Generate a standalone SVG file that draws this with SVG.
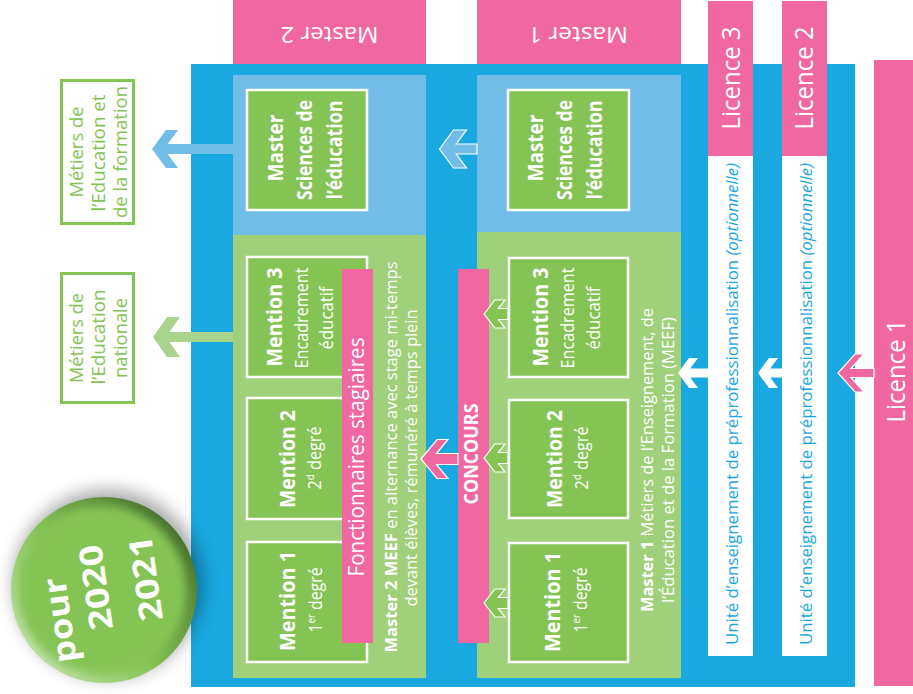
<svg xmlns="http://www.w3.org/2000/svg" width="913" height="694" viewBox="0 0 913 694">
<style>
text{font-family:"Open Sans","Noto Sans","DejaVu Sans",sans-serif;text-anchor:middle}
.w{fill:#ffffff}
.g{fill:#84c455}
.u{fill:#1aa7e0}
.b{font-weight:bold}
.blue{fill:#19a8e0}
.lb{fill:#72bce8}
.lg{fill:#9fd07a}
.pk{fill:#f067a1}
.box{fill:#84c455;stroke:#ffffff;stroke-width:2.5}
.mbox{fill:#ffffff;stroke:#84c455;stroke-width:3}
.wa{fill:#ffffff}
.ga{fill:#84c455;stroke:#ffffff;stroke-width:1.2}
.pa{fill:#f067a1;stroke:#ffffff;stroke-width:1.2}
.la{fill:#72bce8;stroke:#ffffff;stroke-width:1.2}
</style>
<defs>
<linearGradient id="rim" x1="0.1" y1="0.9" x2="0.95" y2="0.2">
<stop offset="0" stop-color="#c3e4ae"/>
<stop offset="0.45" stop-color="#84c455"/>
<stop offset="1" stop-color="#446f2c"/>
</linearGradient>
<filter id="sh" x="-30%" y="-30%" width="160%" height="160%"><feGaussianBlur stdDeviation="9"/></filter>
<filter id="soft" x="-20%" y="-20%" width="140%" height="140%"><feGaussianBlur stdDeviation="4"/></filter>
</defs>
<rect x="0" y="0" width="913" height="694" fill="#ffffff"/>

<g id="frame">
<rect class="blue" x="191" y="64" width="664" height="623"/>
<rect class="lb" x="233" y="75" width="193" height="160"/>
<rect class="lg" x="233" y="235" width="193" height="443"/>
<rect class="lb" x="477" y="75" width="204" height="157"/>
<rect class="lg" x="477" y="232" width="204" height="446"/>
</g>

<g id="master2-header">
<rect class="pk" x="233" y="0" width="193" height="64"/>
<text class="w" font-size="22" transform="translate(329.5,27) rotate(180)" textLength="98" lengthAdjust="spacingAndGlyphs">Master 2</text>
</g>
<g id="master1-header">
<rect class="pk" x="477" y="0" width="204" height="64"/>
<text class="w" font-size="22" transform="translate(578,27) rotate(180)" textLength="100" lengthAdjust="spacingAndGlyphs">Master 1</text>
</g>

<g id="licence3">
<rect class="pk" x="708" y="1" width="45" height="155"/>
<rect class="w" x="708" y="156" width="45" height="500"/>
<text class="w" font-size="25" transform="translate(740,78) rotate(-90)" textLength="103" lengthAdjust="spacingAndGlyphs">Licence 3</text>
<text class="u" font-size="16" transform="translate(738,404) rotate(-90)" textLength="482" lengthAdjust="spacingAndGlyphs">Unité d’enseignement de préprofessionnalisation <tspan font-style="italic">(optionnelle)</tspan></text>
</g>
<g id="licence2">
<rect class="pk" x="782" y="1" width="45" height="155"/>
<rect class="w" x="782" y="156" width="45" height="500"/>
<text class="w" font-size="25" transform="translate(813,78) rotate(-90)" textLength="103" lengthAdjust="spacingAndGlyphs">Licence 2</text>
<text class="u" font-size="16" transform="translate(812,404) rotate(-90)" textLength="482" lengthAdjust="spacingAndGlyphs">Unité d’enseignement de préprofessionnalisation <tspan font-style="italic">(optionnelle)</tspan></text>
</g>
<g id="licence1">
<rect class="pk" x="874" y="60" width="39" height="626"/>
<text class="w" font-size="25" transform="translate(905,371) rotate(-90)" textLength="103" lengthAdjust="spacingAndGlyphs">Licence 1</text>
</g>

<g id="metiers-formation">
<rect class="mbox" x="61.5" y="80.5" width="72" height="143"/>
<text class="g" font-size="18" transform="translate(83,152) rotate(-90)" textLength="91" lengthAdjust="spacingAndGlyphs">Métiers de</text>
<text class="g" font-size="18" transform="translate(105,153) rotate(-90)" textLength="117" lengthAdjust="spacingAndGlyphs">l’Education et</text>
<text class="g" font-size="18" transform="translate(127,152) rotate(-90)" textLength="132" lengthAdjust="spacingAndGlyphs">de la formation</text>
</g>
<g id="metiers-nationale">
<rect class="mbox" x="61.5" y="273.5" width="72" height="129"/>
<text class="g" font-size="18" transform="translate(83,338) rotate(-90)" textLength="90" lengthAdjust="spacingAndGlyphs">Métiers de</text>
<text class="g" font-size="18" transform="translate(105,337) rotate(-90)" textLength="95" lengthAdjust="spacingAndGlyphs">l’Education</text>
<text class="g" font-size="18" transform="translate(127,338) rotate(-90)" textLength="80" lengthAdjust="spacingAndGlyphs">nationale</text>
</g>

<g id="m2-sciences">
<rect class="box" x="247" y="90" width="120" height="120"/>
<text class="w b" font-size="22" transform="translate(283,148) rotate(-90)" textLength="67" lengthAdjust="spacingAndGlyphs">Master</text>
<text class="w b" font-size="22" transform="translate(312,150) rotate(-90)" textLength="100" lengthAdjust="spacingAndGlyphs">Sciences de</text>
<text class="w b" font-size="22" transform="translate(342,150) rotate(-90)" textLength="99" lengthAdjust="spacingAndGlyphs">l’éducation</text>
</g>
<g id="m1-sciences">
<rect class="box" x="508" y="90" width="121" height="120"/>
<text class="w b" font-size="22" transform="translate(543,148) rotate(-90)" textLength="67" lengthAdjust="spacingAndGlyphs">Master</text>
<text class="w b" font-size="22" transform="translate(572,150) rotate(-90)" textLength="100" lengthAdjust="spacingAndGlyphs">Sciences de</text>
<text class="w b" font-size="22" transform="translate(602,150) rotate(-90)" textLength="99" lengthAdjust="spacingAndGlyphs">l’éducation</text>
</g>

<g id="m2-mention3">
<rect class="box" x="247" y="257" width="120" height="120"/>
<text class="w b" font-size="21" transform="translate(282,317) rotate(-90)" textLength="99" lengthAdjust="spacingAndGlyphs">Mention 3</text>
<text class="w" font-size="18" transform="translate(308,318) rotate(-90)" textLength="101" lengthAdjust="spacingAndGlyphs">Encadrement</text>
<text class="w" font-size="18" transform="translate(333,318) rotate(-90)" textLength="63" lengthAdjust="spacingAndGlyphs">éducatif</text>
</g>
<g id="m2-mention2">
<rect class="box" x="247" y="398" width="120" height="121"/>
<text class="w b" font-size="21" transform="translate(295,459) rotate(-90)" textLength="98" lengthAdjust="spacingAndGlyphs">Mention 2</text>
<text class="w" font-size="18" transform="translate(321,458) rotate(-90)" textLength="63" lengthAdjust="spacingAndGlyphs">2<tspan font-size="11" baseline-shift="super">d</tspan> degré</text>
</g>
<g id="m2-mention1">
<rect class="box" x="247" y="542" width="120" height="120"/>
<text class="w b" font-size="21" transform="translate(295,601) rotate(-90)" textLength="100" lengthAdjust="spacingAndGlyphs">Mention 1</text>
<text class="w" font-size="18" transform="translate(322,600) rotate(-90)" textLength="65" lengthAdjust="spacingAndGlyphs">1<tspan font-size="11" baseline-shift="super">er</tspan> degré</text>
</g>

<g id="m1-mention3">
<rect class="box" x="509" y="258" width="119" height="119"/>
<text class="w b" font-size="21" transform="translate(548,317) rotate(-90)" textLength="99" lengthAdjust="spacingAndGlyphs">Mention 3</text>
<text class="w" font-size="18" transform="translate(574,318) rotate(-90)" textLength="101" lengthAdjust="spacingAndGlyphs">Encadrement</text>
<text class="w" font-size="18" transform="translate(600,318) rotate(-90)" textLength="63" lengthAdjust="spacingAndGlyphs">éducatif</text>
</g>
<g id="m1-mention2">
<rect class="box" x="509" y="400" width="119" height="118"/>
<text class="w b" font-size="21" transform="translate(562,459) rotate(-90)" textLength="98" lengthAdjust="spacingAndGlyphs">Mention 2</text>
<text class="w" font-size="18" transform="translate(588,458) rotate(-90)" textLength="63" lengthAdjust="spacingAndGlyphs">2<tspan font-size="11" baseline-shift="super">d</tspan> degré</text>
</g>
<g id="m1-mention1">
<rect class="box" x="509" y="543" width="119" height="119"/>
<text class="w b" font-size="21" transform="translate(560,602) rotate(-90)" textLength="100" lengthAdjust="spacingAndGlyphs">Mention 1</text>
<text class="w" font-size="18" transform="translate(587,600) rotate(-90)" textLength="65" lengthAdjust="spacingAndGlyphs">1<tspan font-size="11" baseline-shift="super">er</tspan> degré</text>
</g>

<g id="m2-label">
<text class="w" font-size="16" transform="translate(397,457) rotate(-90)" textLength="391" lengthAdjust="spacingAndGlyphs"><tspan class="b">Master  2 MEEF</tspan> en alternance avec stage mi-temps</text>
<text class="w" font-size="16" transform="translate(417,458) rotate(-90)" textLength="297" lengthAdjust="spacingAndGlyphs">devant élèves, rémunéré à temps plein</text>
</g>
<g id="m1-label">
<text class="w" font-size="16" transform="translate(653,460) rotate(-90)" textLength="304" lengthAdjust="spacingAndGlyphs"><tspan class="b">Master 1</tspan> Métiers de l’Enseignement, de</text>
<text class="w" font-size="16" transform="translate(674,460) rotate(-90)" textLength="286" lengthAdjust="spacingAndGlyphs">l’Éducation et de la Formation (MEEF)</text>
</g>

<g id="fonctionnaires">
<rect class="pk" x="342" y="269" width="31" height="374"/>
<text class="w" font-size="21" transform="translate(364,457) rotate(-90)" textLength="239" lengthAdjust="spacingAndGlyphs">Fonctionnaires stagiaires</text>
</g>
<g id="concours">
<rect class="pk" x="458" y="269" width="31" height="374"/>
<text class="w b" font-size="20" transform="translate(478,454) rotate(-90)" textLength="101" lengthAdjust="spacingAndGlyphs">CONCOURS</text>
</g>

<g id="connectors">
<polygon class="lb" points="152,149 166,130 178,130 167.7,144 233,144 233,154 167.7,154 178,168 166,168" fill="#6fbce8"/>
<polygon points="153,337 167,317 180,317 169.5,332 233,332 233,342 169.5,342 180,357 167,357" fill="#a8d58b"/>
<polygon class="la" points="439.5,149 453.5,130 466.5,130 456.2,144 477,144 477,154 456.2,154 466.5,168 453.5,168"/>
<polygon class="pa" points="421,459 437,439.5 448,439.5 436.5,453.5 458,453.5 458,464.5 436.5,464.5 448,478.5 437,478.5"/>
<polygon class="ga" transform="translate(484,314)" points="0,0 11,-14 21,-14 14.3,-5.5 24,-5.5 24,5.5 14.3,5.5 21,14 11,14"/>
<polygon class="ga" transform="translate(484,458)" points="0,0 11,-14 21,-14 14.3,-5.5 24,-5.5 24,5.5 14.3,5.5 21,14 11,14"/>
<polygon class="ga" transform="translate(484,603)" points="0,0 11,-14 21,-14 14.3,-5.5 24,-5.5 24,5.5 14.3,5.5 21,14 11,14"/>
<polygon class="wa" transform="translate(678,373)" points="0,0 11,-15 20,-15 12.3,-4.5 30,-4.5 30,4.5 12.3,4.5 20,15 11,15"/>
<polygon class="wa" transform="translate(758,373)" points="0,0 11,-15 20,-15 12.3,-4.5 24,-4.5 24,4.5 12.3,4.5 20,15 11,15"/>
<polygon class="pa" points="838,373 855,354 864,354 851,368.5 874,368.5 874,377.5 851,377.5 864,392 855,392"/>
</g>

<g id="badge">
<circle cx="108" cy="584" r="94" fill="#000000" opacity="0.35" filter="url(#sh)"/>
<circle cx="104" cy="590" r="93" fill="url(#rim)"/>
<circle cx="102" cy="590" r="84" fill="#84c455" filter="url(#soft)"/>
<text class="w b" font-size="32" transform="translate(71,619) rotate(-98)" textLength="86" lengthAdjust="spacingAndGlyphs">pour</text>
<text class="w b" font-size="32" transform="translate(107,586) rotate(-98)" textLength="86" lengthAdjust="spacingAndGlyphs">2020</text>
<text class="w b" font-size="32" transform="translate(157,577) rotate(-98)" textLength="86" lengthAdjust="spacingAndGlyphs">2021</text>
</g>
</svg>
